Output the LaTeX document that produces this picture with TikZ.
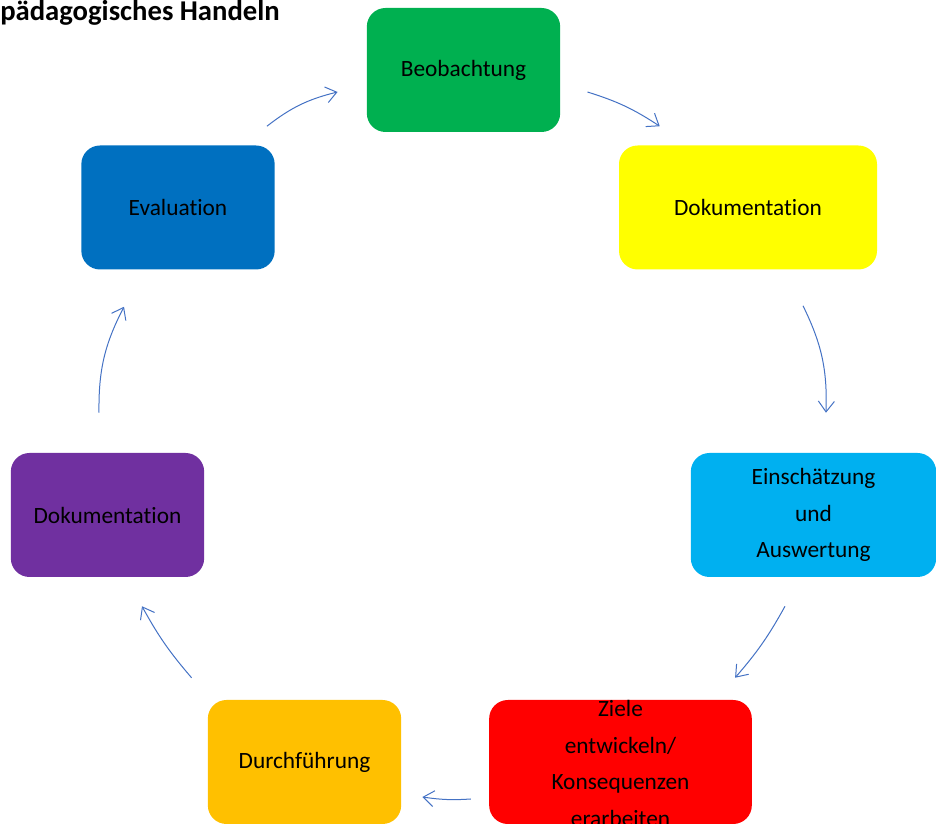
\documentclass[tikz,border=0pt]{standalone}
\usepackage{fontspec}
\setmainfont{Carlito}[Ligatures={NoCommon}]
\usepackage{xcolor}
\usetikzlibrary{arrows.meta,positioning}
\definecolor{zgreen}{HTML}{00B050}
\definecolor{zyellow}{HTML}{FFFF00}
\definecolor{zcyan}{HTML}{00B0F0}
\definecolor{zred}{HTML}{FF0000}
\definecolor{zorange}{HTML}{FFC000}
\definecolor{zpurple}{HTML}{7030A0}
\definecolor{zblue}{HTML}{0070C0}
\definecolor{flowblue}{HTML}{4472C4}
\tikzset{
  every node/.style={font=\fontsize{17.5}{27.4}\selectfont,text=black},
  phase/.style={rounded corners=14pt,align=center,inner sep=3pt,minimum width=145pt,minimum height=93pt},
  flow/.style={-{Straight Barb[length=8pt,width=12pt]},line width=0.75pt,draw=flowblue},
  title/.style={font=\fontsize{21.5}{25}\selectfont\bfseries,inner sep=0pt}
}
\begin{document}
\begin{tikzpicture}[x=0.75pt,y=0.75pt]
  \useasboundingbox (0,0) rectangle (936,824);
  \node[title,anchor=base west] (head) at (0,803) {pädagogisches Handeln};

  \node[phase,fill=zgreen] (beo) at (463.5,754) {Beobachtung};
  \node[phase,fill=zyellow,minimum width=193.5pt] (dok) at (748,616.5) {Dokumentation};
  \node[phase,fill=zcyan,minimum width=184pt] (ein) at (813.5,309) {Einschätzung\\und\\Auswertung};
  \node[phase,fill=zred,minimum width=197pt] (ziele) at (620.5,62) {\smash{\raisebox{-6pt}{\begin{tabular}{@{}c@{}}Ziele\\entwickeln/\\Konsequenzen\\erarbeiten\end{tabular}}}};
  \node[phase,fill=zorange] (durch) at (304.5,62) {Durchführung};
  \node[phase,fill=zpurple] (doku) at (107.5,309) {Dokumentation};
  \node[phase,fill=zblue] (eval) at (178,616.5) {Evaluation};

  \draw[flow] ([shift={(-8,19)}]eval.north east) to[bend left=12] ([shift={(-29,-22)}]beo.west);
  \draw[flow] ([shift={(27,-22)}]beo.east) to[bend left=8] ([shift={(41,19)}]dok.north west);
  \draw[flow] ([shift={(55,-36)}]dok.south) to[bend left=14] ([shift={(12.5,40)}]ein.north);
  \draw[flow] ([shift={(-28.5,-29)}]ein.south) to[bend left=6] ([shift={(-17,22)}]ziele.north east);
  \draw[flow] ([shift={(-18,-37)}]ziele.west) to[bend left=6] ([shift={(21,-35)}]durch.east);
  \draw[flow] ([shift={(-16,22)}]durch.north west) to[bend left=6] ([shift={(34.5,-29)}]doku.south);
  \draw[flow] ([shift={(-8.5,40)}]doku.north) to[bend left=14] ([shift={(-54,-37)}]eval.south);
\end{tikzpicture}
\end{document}
